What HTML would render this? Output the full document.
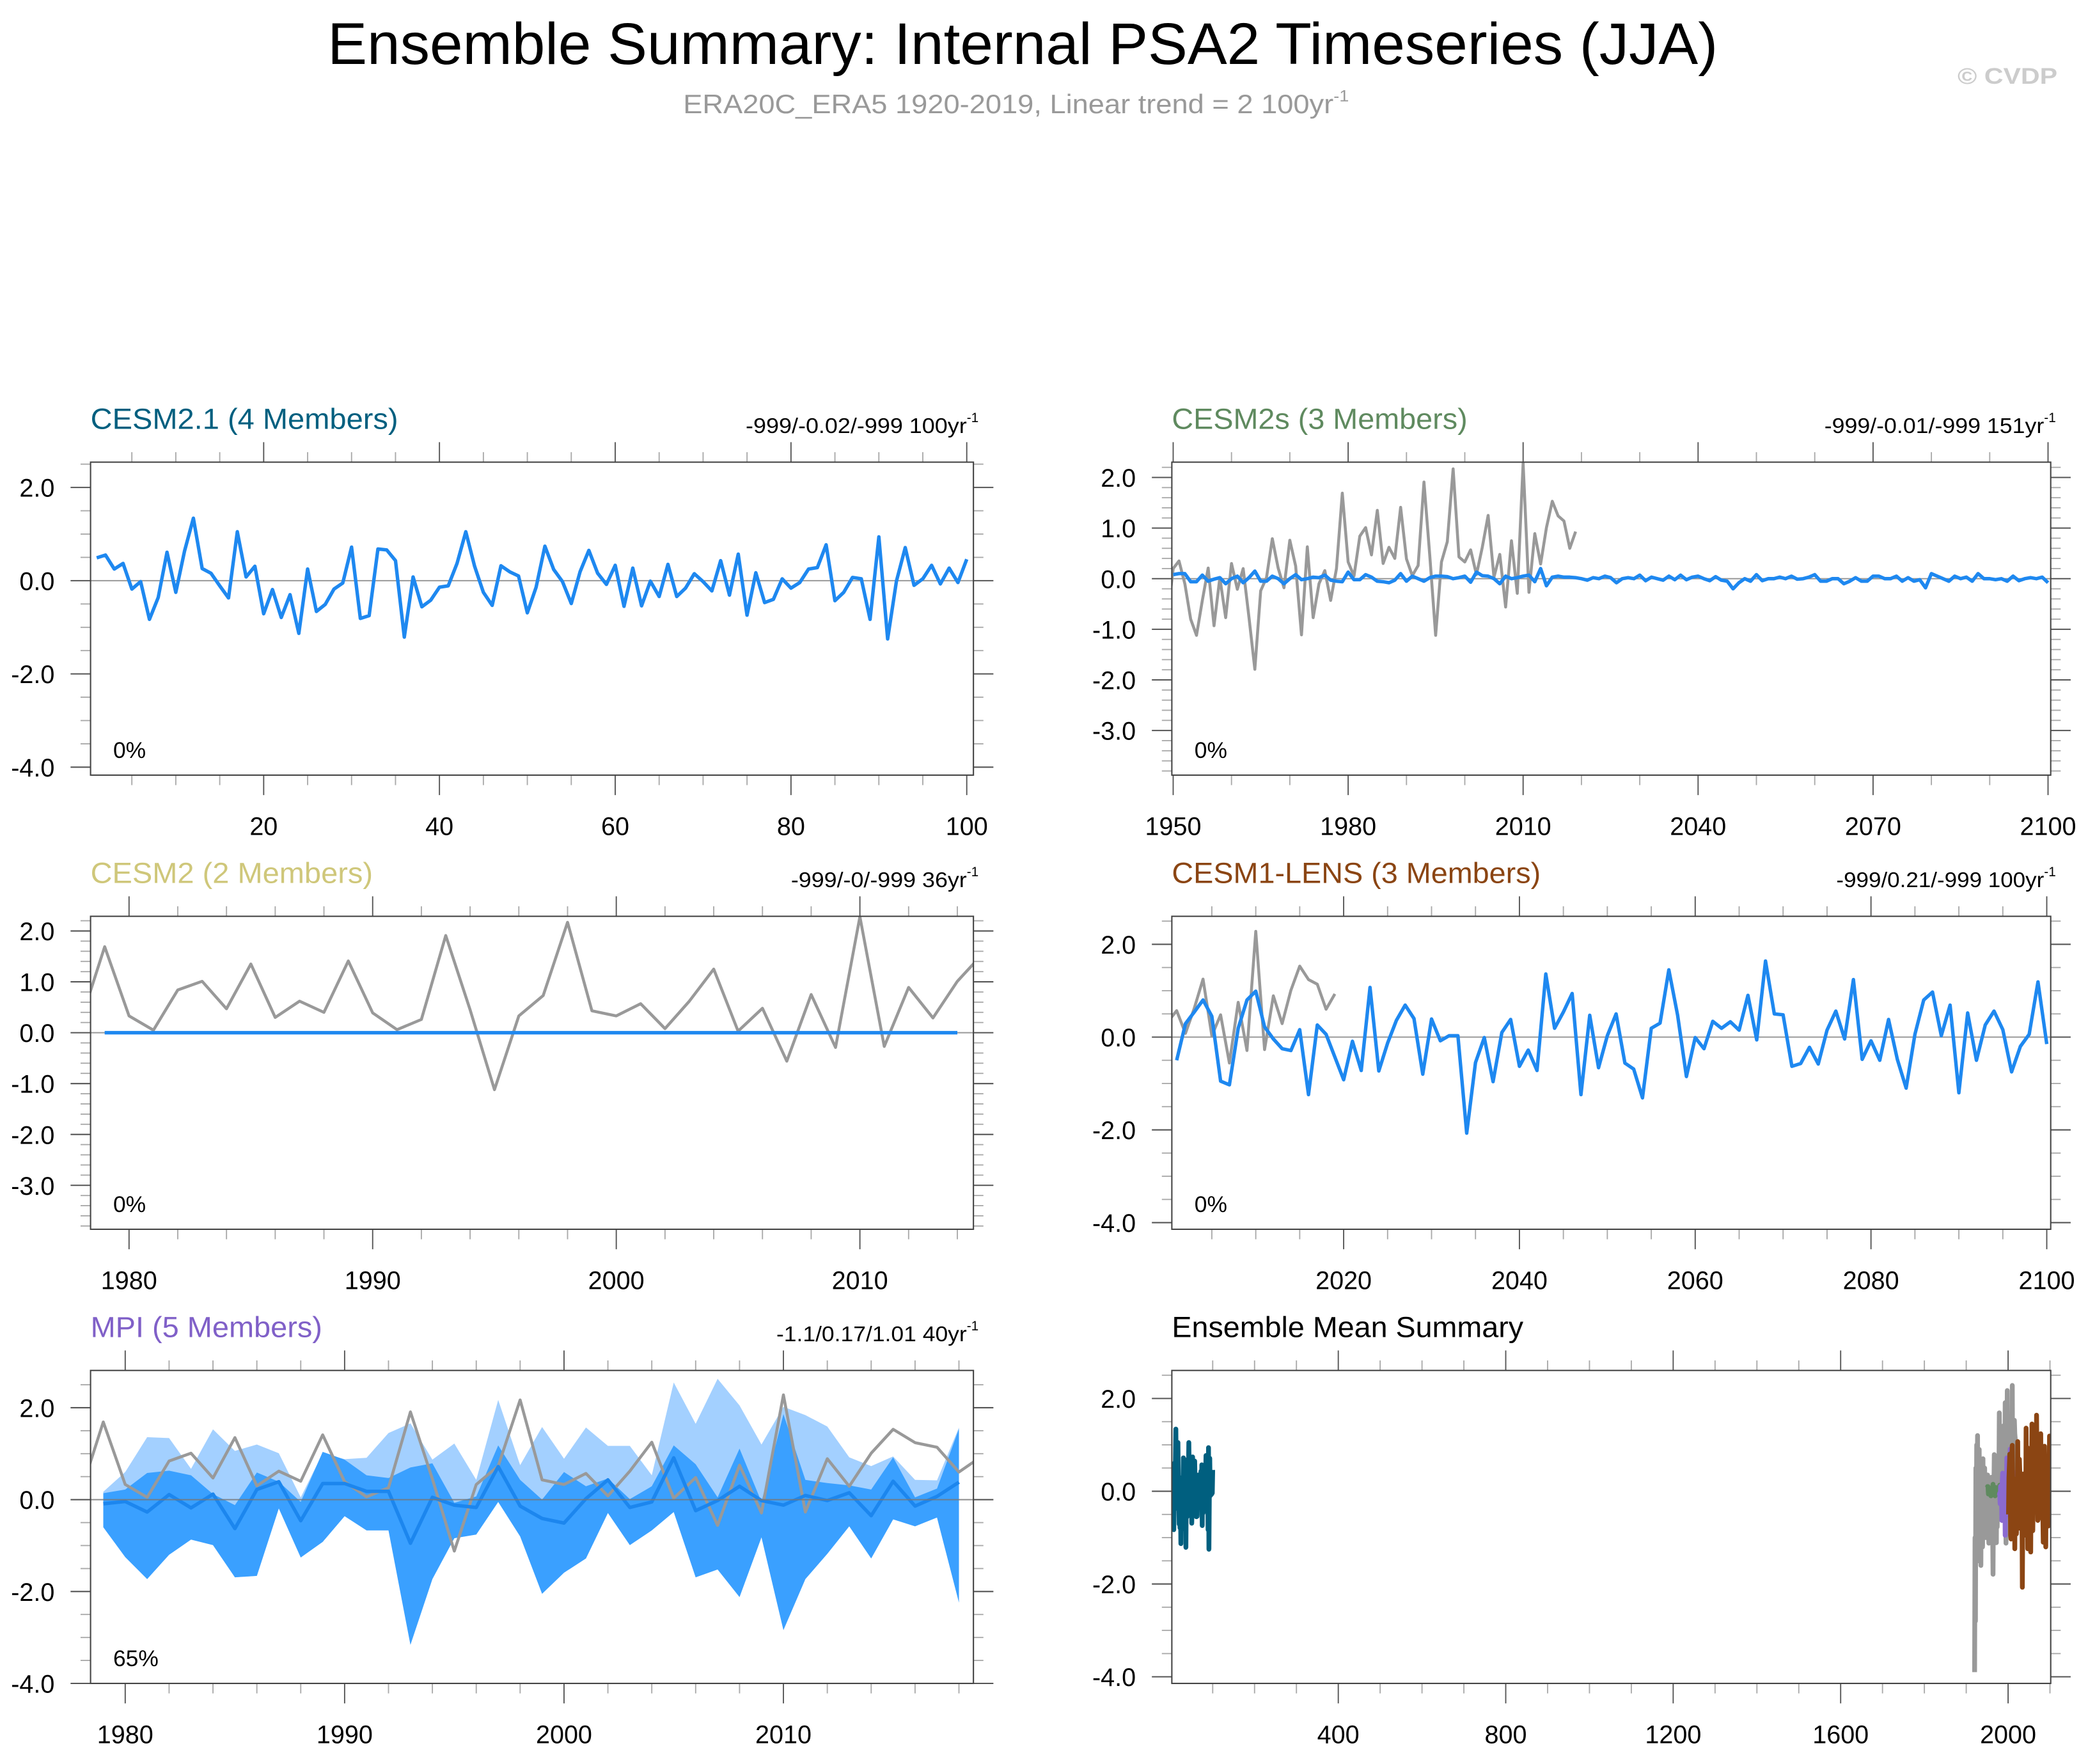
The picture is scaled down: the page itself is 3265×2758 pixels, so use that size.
<!DOCTYPE html>
<html><head><meta charset="utf-8"><style>
html,body{margin:0;padding:0;background:#fff;}
svg{display:block;font-family:"Liberation Sans",Arial,sans-serif;}
</style></head><body>
<svg id="chart" xmlns="http://www.w3.org/2000/svg" width="3265" height="2758" viewBox="0 0 1568 1324.5">
<rect x="0" y="0" width="1568" height="1324.5" fill="#fff"/>
<text x="768" y="48" font-size="44" text-anchor="middle" textLength="1044" lengthAdjust="spacingAndGlyphs">Ensemble Summary: Internal PSA2 Timeseries (JJA)</text>
<text x="513" y="85" font-size="20" fill="#999" textLength="500" lengthAdjust="spacingAndGlyphs">ERA20C_ERA5 1920-2019, Linear trend = 2 100yr<tspan font-size="12" dy="-9">-1</tspan></text>
<text x="1470" y="63" font-size="17" font-weight="bold" fill="#ccc" textLength="75" lengthAdjust="spacingAndGlyphs">© CVDP</text>
<g id="panels"></g>
</svg>
<script>
// ---------- data ----------
const obsYears0 = 1920;
const obsValues = [-3.9,-1.0,-2.8,0.5,-1.1,1.0,-0.5,1.2,-1.5,0.3,-0.8,0.9,-1.3,0.6,-0.7,-1.6,0.4,-0.9,0.1,-1.2,0.7,-0.4,0.2,-0.8,0.5,-0.3,-1.0,0.3,-0.8,-0.8,
0.2,0.35,-0.1,-0.8,-1.12,-0.43,0.21,-0.93,0.02,-0.77,
0.3,-0.21,0.2,-0.77,-1.79,-0.24,0.02,0.79,0.21,-0.18,
0.76,0.25,-1.11,0.63,-0.77,-0.1,0.16,-0.43,0.2,1.69,
0.33,0.05,0.84,1.01,0.47,1.35,0.3,0.62,0.4,1.41,
0.39,0.06,0.26,1.91,0.45,-1.12,0.33,0.73,2.17,0.43,
0.33,0.57,0.08,0.62,1.25,0.03,0.48,-0.56,0.75,-0.29,
2.28,-0.27,0.89,0.29,1.01,1.53,1.24,1.14,0.6,0.93];

const cesm21Values = [0.49,0.55,0.25,0.37,-0.18,-0.02,-0.83,-0.36,0.61,-0.25,0.64,1.34,0.26,0.16,-0.11,-0.37,1.05,0.08,0.31,-0.71,
-0.19,-0.79,-0.30,-1.13,0.25,-0.66,-0.51,-0.18,-0.05,0.72,-0.81,-0.75,0.68,0.66,0.43,-1.21,0.08,-0.56,-0.42,-0.14,
-0.11,0.37,1.05,0.31,-0.25,-0.53,0.32,0.19,0.10,-0.69,-0.14,0.74,0.24,-0.02,-0.49,0.19,0.65,0.16,-0.08,0.33,
-0.55,0.27,-0.54,-0.01,-0.34,0.35,-0.34,-0.16,0.15,-0.02,-0.22,0.43,-0.31,0.57,-0.74,0.17,-0.47,-0.40,0.04,-0.16,
-0.04,0.25,0.28,0.77,-0.43,-0.25,0.07,0.04,-0.83,0.94,-1.25,-0.01,0.71,-0.10,0.04,0.33,-0.07,0.27,-0.04,0.46];

const cesm2sValues = [0.08,0.1,0.1,-0.06,-0.06,0.07,-0.05,-0.01,0.02,-0.1,
0.0,0.05,-0.08,0.02,0.15,-0.05,-0.05,0.05,0.0,-0.1,
0.0,0.08,-0.02,0.0,0.03,0.02,0.07,-0.03,-0.05,-0.06,
0.13,-0.02,-0.02,0.08,0.03,-0.05,-0.06,-0.08,-0.03,0.1,
-0.05,0.05,0.0,-0.05,0.02,0.05,0.05,0.04,0.0,0.02,
0.05,-0.07,0.13,0.06,0.05,0.0,-0.1,0.05,0.0,0.02,
0.05,0.07,-0.06,0.2,-0.14,0.03,0.05,0.03,0.03,0.02,
0.0,-0.03,0.02,0.0,0.05,0.02,-0.08,0.0,0.02,0.0,
0.07,-0.04,0.03,0.0,-0.03,0.05,-0.02,0.07,-0.02,0.03,
0.05,0.0,-0.04,0.04,-0.03,-0.05,-0.2,-0.08,0.0,-0.05,
0.08,-0.04,0.0,0.0,0.03,0.0,0.05,-0.01,0.0,0.03,
0.08,-0.05,-0.05,0.0,0.0,-0.1,-0.05,0.02,-0.05,-0.05,
0.05,0.05,0.0,0.0,0.05,-0.05,0.02,-0.05,-0.02,-0.18,
0.1,0.05,0.0,-0.05,0.05,0.0,0.03,-0.05,0.1,0.0,
0.0,-0.02,0.0,-0.05,0.05,-0.04,0.0,0.02,0.0,0.03,-0.08];

const cesm2Values = [0,0,0,0,0,0,0,0,0,0,0,0,0,0,0,0,0,0,0,0,0,0,0,0,0,0,0,0,0,0,0,0,0,0,0,0];

const lensValues = [-0.5,0.29,0.54,0.8,0.45,-0.95,-1.03,0.19,0.8,0.99,
0.22,-0.04,-0.25,-0.29,0.16,-1.24,0.26,0.06,-0.43,-0.92,
-0.09,-0.72,1.07,-0.73,-0.13,0.36,0.69,0.4,-0.8,0.39,
-0.08,0.03,0.03,-2.07,-0.55,-0.01,-0.96,0.1,0.38,-0.63,
-0.28,-0.72,1.36,0.19,0.54,0.94,-1.24,0.47,-0.66,0.03,
0.5,-0.56,-0.69,-1.31,0.19,0.3,1.45,0.47,-0.85,-0.01,
-0.25,0.34,0.19,0.33,0.15,0.9,-0.06,1.64,0.5,0.48,
-0.63,-0.57,-0.22,-0.58,0.15,0.56,-0.04,1.24,-0.48,-0.08,
-0.5,0.38,-0.48,-1.1,0.06,0.8,0.97,0.03,0.69,-1.2,
0.52,-0.5,0.26,0.56,0.16,-0.75,-0.2,0.06,1.19,-0.15];

const mpiMean = [-0.09,-0.04,-0.27,0.11,-0.18,0.12,-0.63,0.22,0.39,-0.46,0.35,0.35,0.18,0.18,-0.95,0.05,-0.12,-0.17,0.72,-0.14,
-0.41,-0.51,0.02,0.43,-0.17,-0.05,0.91,-0.24,-0.02,0.29,-0.02,-0.12,0.09,-0.02,0.15,-0.35,0.4,-0.14,0.07,0.38];
const mpiMax = [0.17,0.6,1.36,1.34,0.67,1.53,1.06,1.2,1.01,0.05,1.01,0.88,0.91,1.45,1.66,0.87,1.22,0.43,2.17,0.75,
1.58,0.89,1.57,1.17,1.17,0.53,2.55,1.65,2.63,2.05,1.2,2.02,1.84,1.59,0.92,0.73,0.94,0.43,0.42,1.57];
const mpiUpper = [0.14,0.22,0.58,0.63,0.53,0.12,-0.12,0.59,0.39,-0.05,1.04,0.87,0.53,0.47,0.7,0.79,-0.07,0.07,1.18,0.43,
0.0,0.6,0.29,0.46,0.01,0.29,1.18,0.77,0.05,1.11,-0.05,1.86,0.43,0.36,0.31,0.22,0.92,0.05,0.24,1.54];
const mpiMin = [-0.6,-1.25,-1.73,-1.2,-0.87,-0.99,-1.69,-1.66,-0.19,-1.26,-0.92,-0.36,-0.67,-0.67,-3.16,-1.73,-0.84,-0.76,-0.05,-0.8,
-2.05,-1.59,-1.28,-0.29,-0.99,-0.67,-0.27,-1.69,-1.52,-2.12,-0.82,-2.84,-1.73,-1.18,-0.58,-1.28,-0.43,-0.58,-0.39,-2.24];

// ---------- helpers ----------
const NS = "http://www.w3.org/2000/svg";
const root = document.getElementById("panels");
function el(tag, attrs, parent) {
  const e = document.createElementNS(NS, tag);
  for (const k in attrs) e.setAttribute(k, attrs[k]);
  (parent || root).appendChild(e);
  return e;
}
let clipCount = 0;
function makePanel(cfg) {
  const g = el("g", {});
  
  
  const sx = v => cfg.x0 + (v - cfg.xd[0]) / (cfg.xd[1] - cfg.xd[0]) * (cfg.x1 - cfg.x0);
  const sy = v => cfg.yz - v * cfg.ys;
  const yTop = (cfg.yz - cfg.y0) / cfg.ys, yBot = (cfg.yz - cfg.y1) / cfg.ys;
  for (let v = Math.ceil(yBot / cfg.ymin - 1e-6) * cfg.ymin; v <= yTop + 1e-6; v += cfg.ymin) {
    const vv = Math.round(v * 100) / 100;
    const major = Math.abs(vv / cfg.ymaj - Math.round(vv / cfg.ymaj)) < 1e-6;
    const L = major ? 15 : 7.5;
    const t1 = el("line", {x1: cfg.x0 - L, x2: cfg.x0, y1: sy(vv), y2: sy(vv), stroke: major ? "#555" : "#aaa", "stroke-width": major ? 1 : 0.9}, g);
    
    
    const t2 = el("line", {x1: cfg.x1, x2: cfg.x1 + L, y1: sy(vv), y2: sy(vv), stroke: major ? "#555" : "#aaa", "stroke-width": major ? 1 : 0.9}, g);
    
    
    if (major) {
      const lb = el("text", {x: cfg.x0 - 27, y: sy(vv) + 7, "font-size": 19, "text-anchor": "end"}, g);
      
      
      lb.textContent = vv.toFixed(1);
    }
  }
  for (let v = Math.ceil(cfg.xd[0] / cfg.xmin) * cfg.xmin; v <= cfg.xd[1] + 1e-6; v += cfg.xmin) {
    const major = v % cfg.xmaj === 0;
    const L = major ? 15 : 7.5;
    const c = major ? "#555" : "#aaa";
    const t1 = el("line", {x1: sx(v), x2: sx(v), y1: cfg.y0 - L, y2: cfg.y0, stroke: c, "stroke-width": 0.9}, g);
    
    
    const t2 = el("line", {x1: sx(v), x2: sx(v), y1: cfg.y1, y2: cfg.y1 + L, stroke: c, "stroke-width": 0.9}, g);
    
    
    if (major) {
      const lb = el("text", {x: sx(v), y: cfg.y1 + 45, "font-size": 19, "text-anchor": "middle"}, g);
      
      
      lb.textContent = String(v);
    }
  }
  const id = "clip" + (clipCount++);
  const cp = el("clipPath", {id: id}, g);
  el("rect", {x: cfg.x0, y: cfg.y0, width: cfg.x1 - cfg.x0, height: cfg.y1 - cfg.y0}, cp);
  if (!cfg.noZero && !cfg.zeroOnTop) {
    const z = el("line", {x1: cfg.x0, x2: cfg.x1, y1: sy(0), y2: sy(0), stroke: "#999", "stroke-width": 1}, g);
    
    
  }
  const plot = el("g", {"clip-path": "url(#" + id + ")"}, g);
  
  
  const over = el("g", {}, g);
  
  
  if (cfg.zeroOnTop) {
    const z = el("line", {x1: cfg.x0, x2: cfg.x1, y1: sy(0), y2: sy(0), stroke: "#777", "stroke-width": 1, opacity: 0.8}, over);
    
    
  }
  const fr = el("rect", {x: cfg.x0, y: cfg.y0, width: cfg.x1 - cfg.x0, height: cfg.y1 - cfg.y0, fill: "none", stroke: "#444", "stroke-width": 1}, g);
  
  
  const tt = el("text", {x: cfg.x0, y: cfg.y0 - 25, "font-size": 22, fill: cfg.tcolor, textLength: cfg.tlen, lengthAdjust: "spacingAndGlyphs"}, g);
  
  
  tt.textContent = cfg.title;
  if (cfg.rlabel) {
    const rl = el("text", {x: cfg.x1 - 5, y: cfg.y0 - 22, "font-size": 16, "text-anchor": "end", textLength: cfg.rlen, lengthAdjust: "spacingAndGlyphs"}, g);
    
    
    rl.textContent = cfg.rlabel;
    const sp = el("text", {x: cfg.x1 - 5, y: cfg.y0 - 30, "font-size": 10}, g);
    
    
    sp.textContent = "-1";
  }
  if (cfg.pct) {
    const pc = el("text", {x: cfg.x0 + 17, y: cfg.y1 - 13, "font-size": 17}, g);
    
    
    pc.textContent = cfg.pct;
  }
  return {sx, sy, plot};
}
function line(P, x0, vals, color, w, name) {
  const d = vals.map((v, i) => (i ? "L" : "M") + P.sx(x0 + i).toFixed(2) + "," + P.sy(v).toFixed(2)).join("");
  const p = el("path", {d: d, fill: "none", stroke: color, "stroke-width": w, "stroke-linejoin": "round"}, P.plot);
  
  
  return p;
}
function band(P, x0, top, bot, color, name) {
  let d = top.map((v, i) => (i ? "L" : "M") + P.sx(x0 + i).toFixed(2) + "," + P.sy(v).toFixed(2)).join("");
  for (let i = bot.length - 1; i >= 0; i--) d += "L" + P.sx(x0 + i).toFixed(2) + "," + P.sy(bot[i]).toFixed(2);
  const p = el("path", {d: d + "Z", fill: color, stroke: "none"}, P.plot);
  
  
}
const BLUE = "#1e88f0", GRAY = "#999";
const P1 = makePanel({name: "panel-cesm2-1", x0: 68, x1: 731, y0: 347, y1: 582, xd: [0.3, 100.76], yz: 436, ys: 35,
  ymaj: 2, ymin: 0.5, xmaj: 20, xmin: 5, title: "CESM2.1 (4 Members)", tcolor: "#005f7f", tlen: 231,
  rlabel: "-999/-0.02/-999 100yr", rlen: 166, pct: "0%"});
line(P1, 1, cesm21Values, BLUE, 2.6, "cesm2-1-ensemble-mean-line");
const P2 = makePanel({name: "panel-cesm2s", x0: 880, x1: 1540, y0: 347, y1: 582, xd: [1949.77, 2100.46], yz: 434.5, ys: 38,
  ymaj: 1, ymin: 0.2, xmaj: 30, xmin: 10, title: "CESM2s (3 Members)", tcolor: "#5f8a5f", tlen: 222,
  rlabel: "-999/-0.01/-999 151yr", rlen: 165, pct: "0%"});
line(P2, obsYears0, obsValues, GRAY, 2.2, "observed-psa2-line");
line(P2, 1950, cesm2sValues, BLUE, 2.6, "cesm2s-ensemble-mean-line");
const P3 = makePanel({name: "panel-cesm2", x0: 68, x1: 731, y0: 688, y1: 923, xd: [1978.42, 2014.66], yz: 775.4, ys: 38.2,
  ymaj: 1, ymin: 0.2, xmaj: 10, xmin: 2, title: "CESM2 (2 Members)", tcolor: "#cfc77a", tlen: 212,
  rlabel: "-999/-0/-999 36yr", rlen: 132, pct: "0%"});
line(P3, obsYears0, obsValues, GRAY, 2.2, "observed-psa2-line");
line(P3, 1979, cesm2Values, BLUE, 2.6, "cesm2-ensemble-mean-line");
const P4 = makePanel({name: "panel-cesm1-lens", x0: 880, x1: 1540, y0: 688, y1: 923, xd: [2000.45, 2100.45], yz: 778.7, ys: 34.83,
  ymaj: 2, ymin: 0.5, xmaj: 20, xmin: 5, title: "CESM1-LENS (3 Members)", tcolor: "#8b4513", tlen: 277,
  rlabel: "-999/0.21/-999 100yr", rlen: 156, pct: "0%"});
line(P4, obsYears0, obsValues, GRAY, 2.2, "observed-psa2-line");
line(P4, 2001, lensValues, BLUE, 2.6, "cesm1-lens-ensemble-mean-line");
const P5 = makePanel({name: "panel-mpi", x0: 68, x1: 731, y0: 1029, y1: 1264, xd: [1978.42, 2018.66], yz: 1126, ys: 34.5,
  ymaj: 2, ymin: 0.5, xmaj: 10, xmin: 2, title: "MPI (5 Members)", tcolor: "#8060c8", tlen: 174,
  rlabel: "-1.1/0.17/1.01 40yr", rlen: 143, pct: "65%", zeroOnTop: true});
band(P5, 1979, mpiMax, mpiMin, "#a3d0ff", "mpi-full-range-band");
band(P5, 1979, mpiUpper, mpiMin, "#3aa0ff", "mpi-inner-range-band");
line(P5, obsYears0, obsValues, GRAY, 2.2, "observed-psa2-line");
line(P5, 1979, mpiMean, "#1c86ee", 2.6, "mpi-ensemble-mean-line");
const P6 = makePanel({name: "panel-ensemble-mean-summary", x0: 880, x1: 1540, y0: 1029, y1: 1264, xd: [2.4, 2101.8], yz: 1119.7, ys: 34.83,
  ymaj: 2, ymin: 0.5, xmaj: 400, xmin: 100, title: "Ensemble Mean Summary", tcolor: "#000", tlen: 264, noZero: true});
line(P6, obsYears0, obsValues, GRAY, 3.6, "summary-observed-line");
line(P6, 1979, cesm2Values, "#cfc77a", 3.6, "summary-cesm2-line");
line(P6, 1950, cesm2sValues, "#5f8a5f", 3.6, "summary-cesm2s-line");
line(P6, 1979, mpiMean, "#8a6ad0", 3.6, "summary-mpi-line");
line(P6, 2001, lensValues, "#8b4513", 3.6, "summary-cesm1-lens-line");
line(P6, 1, cesm21Values, "#005f7f", 3.6, "summary-cesm2-1-line");
</script>
</body></html>
